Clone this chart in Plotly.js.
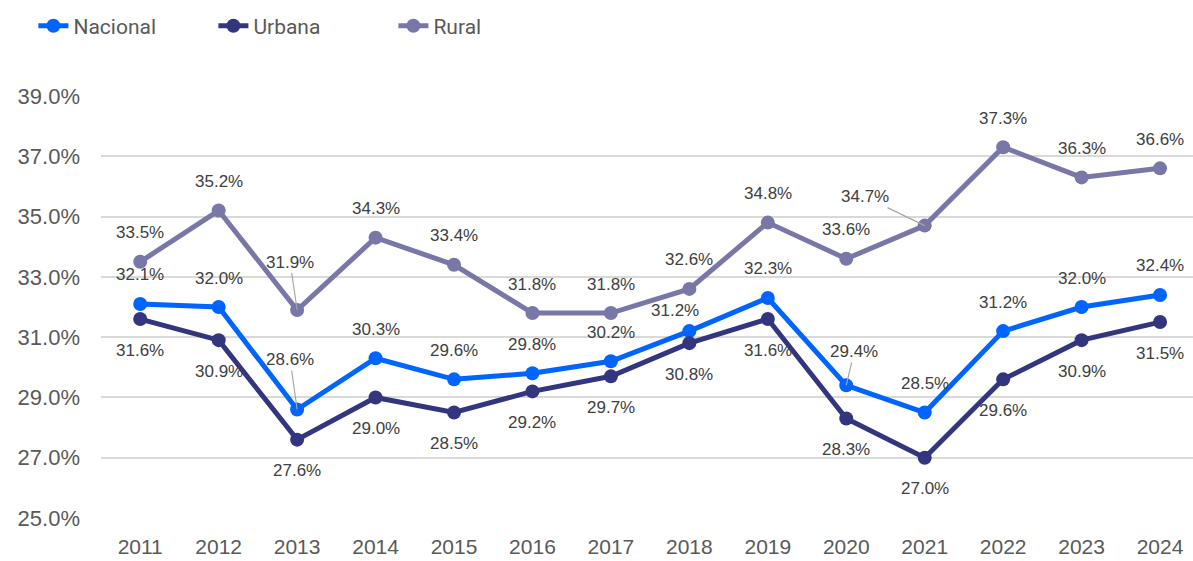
<!DOCTYPE html>
<html>
<head>
<meta charset="utf-8">
<script src="https://cdn.plot.ly/plotly-3.0.1.min.js"></script>
<style>html,body{margin:0;padding:0;background:#fff;}#chart{width:1193px;height:561px;}</style>
</head>
<body>
<div id="chart"></div>
<script>
const years = ['2011','2012','2013','2014','2015','2016','2017','2018','2019','2020','2021','2022','2023','2024'];
const nacional = [32.1, 32.0, 28.6, 30.3, 29.6, 29.8, 30.2, 31.2, 32.3, 29.4, 28.5, 31.2, 32.0, 32.4];
const urbana   = [31.6, 30.9, 27.6, 29.0, 28.5, 29.2, 29.7, 30.8, 31.6, 28.3, 27.0, 29.6, 30.9, 31.5];
const rural    = [33.5, 35.2, 31.9, 34.3, 33.4, 31.8, 31.8, 32.6, 34.8, 33.6, 34.7, 37.3, 36.3, 36.6];
const yTicks = [25, 27, 29, 31, 33, 35, 37, 39];

const series = [
  {name: 'Nacional', values: nacional, color: '#0064FF', shift: -29},
  {name: 'Urbana',   values: urbana,   color: '#33367F', shift: 31},
  {name: 'Rural',    values: rural,    color: '#7877A8', shift: -29}
];
// label placement overrides (style only): leader lines and nudges
const labelStyle = {
  'Rural|2013':    {arrow: true, ax: -7, ay: -48},
  'Nacional|2013': {arrow: true, ax: -7, ay: -50},
  'Rural|2021':    {arrow: true, ax: -60, ay: -29},
  'Nacional|2020': {arrow: true, ax: 8, ay: -34},
  'Nacional|2018': {xs: -14, ys: -21}
};

const traces = series.map(s => ({
  type: 'scatter', mode: 'lines+markers', name: s.name,
  x: years, y: s.values,
  line: {color: s.color, width: 5},
  marker: {color: s.color, size: 14},
  cliponaxis: false
}));

const annotations = [];
series.forEach(s => {
  s.values.forEach((v, i) => {
    const key = s.name + '|' + years[i];
    const st = labelStyle[key] || {};
    const a = {
      x: i, y: v, xref: 'x', yref: 'y',
      text: v.toFixed(1) + '%',
      font: {family: 'Liberation Sans, Arial, sans-serif', size: 17, color: '#404040'}
    };
    if (st.arrow) {
      a.showarrow = true; a.arrowhead = 0; a.arrowwidth = 1.2; a.arrowcolor = '#A6A6A6';
      a.ax = st.ax; a.ay = st.ay; a.standoff = 0;
    } else {
      a.showarrow = false;
      a.xshift = st.xs || 0;
      a.yshift = -(st.ys !== undefined ? st.ys : s.shift);
    }
    annotations.push(a);
  });
});

const layout = {
  width: 1193, height: 561,
  margin: {l: 101, r: 0, t: 96, b: 43},
  paper_bgcolor: '#ffffff', plot_bgcolor: '#ffffff',
  showlegend: true,
  legend: {
    orientation: 'h', xref: 'container', yref: 'container',
    x: 0.028, y: 0.99, xanchor: 'left', yanchor: 'top',
    font: {family: 'Roboto, sans-serif', size: 21, color: '#595959'},
    entrywidth: 135, entrywidthmode: 'pixels'
  },
  xaxis: {
    type: 'category', range: [-0.5, 13.42],
    showgrid: false, zeroline: false, showline: false,
    ticks: '', ticklabelstandoff: 14,
    tickfont: {family: 'Liberation Sans, Arial, sans-serif', size: 21, color: '#595959'}
  },
  yaxis: {
    range: [25, 39], tickvals: yTicks,
    ticktext: yTicks.map(t => t.toFixed(1) + '%'),
    showgrid: true, gridcolor: '#D9D9D9', gridwidth: 2,
    zeroline: false, showline: false, ticks: '', ticklabelstandoff: 20,
    tickfont: {family: 'Liberation Sans, Arial, sans-serif', size: 22, color: '#595959'}
  },
  annotations: annotations
};

Plotly.newPlot('chart', traces, layout, {displayModeBar: false});
</script>
</body>
</html>
